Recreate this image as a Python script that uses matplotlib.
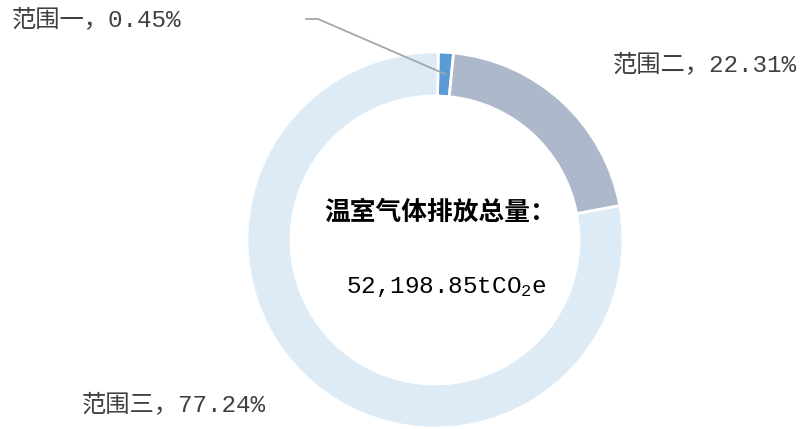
import matplotlib.pyplot as plt

plt.rcParams['mathtext.fontset'] = 'custom'
plt.rcParams['mathtext.rm'] = 'Liberation Mono'
plt.rcParams['mathtext.it'] = 'Liberation Mono'

# data
scopes = ['范围一', '范围二', '范围三']
pct_labels = ['0.45%', '22.31%', '77.24%']
shares = [1.3, 20.5, 78.2]  # slice sizes as drawn
colors = ['#5B9BD5', '#ADB9CA', '#DDEBF7']
total = '52,198.85'

fam = ['Liberation Mono', 'Noto Sans CJK SC']

fig = plt.figure(figsize=(8.04, 4.29), dpi=100)
ax = fig.add_axes([0, 0, 1, 1])

ax.pie(shares, colors=colors, startangle=89, counterclock=False,
       center=(435, 189), radius=188,
       wedgeprops=dict(width=44, edgecolor='white', linewidth=2))
ax.set_xlim(0, 804)
ax.set_ylim(0, 429)
ax.set_aspect('equal')
ax.axis('off')

# leader line for scope 1
ax.plot([306, 318, 445], [410, 410, 355], color='#A6A6A6', lw=1.3)

tc = '#404040'
ax.text(12, 409, scopes[0] + '，' + pct_labels[0], family=fam, fontsize=17.5, color=tc, va='center', ha='left')
ax.text(613, 364, scopes[1] + '，' + pct_labels[1], family=fam, fontsize=17.5, color=tc, va='center', ha='left')
ax.text(82, 24, scopes[2] + '，' + pct_labels[2], family=fam, fontsize=17.5, color=tc, va='center', ha='left')

ax.text(440, 216, '温室气体排放总量：', family=fam, fontsize=18.5, fontweight='bold', color='black', va='center', ha='center')
ax.text(446, 142, total + r'tCO$_\mathrm{2}$e', family=fam, fontsize=17.5, color='black', va='center', ha='center')

fig.savefig('out.png', dpi=100)
